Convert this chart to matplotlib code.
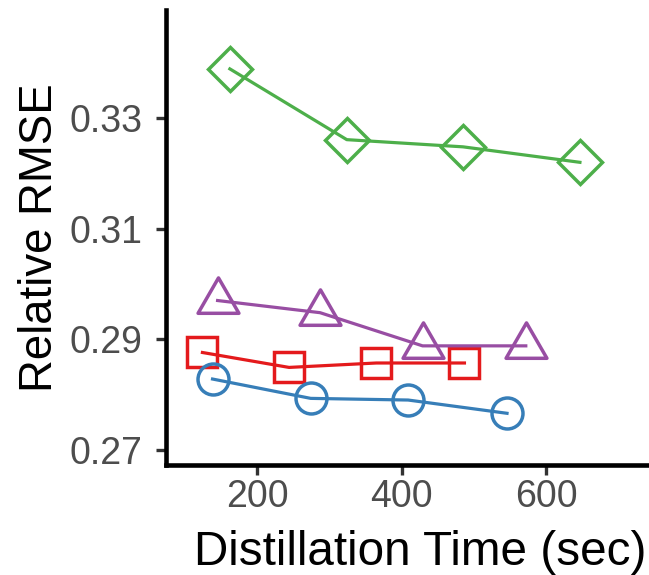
import matplotlib
matplotlib.use("Agg")
import matplotlib.pyplot as plt
from matplotlib.path import Path

# values
green_x = [162, 324, 485, 647]
green_y = [0.3389, 0.3261, 0.3248, 0.3220]
purple_x = [145, 287, 429, 572]
purple_y = [0.2970, 0.2948, 0.2888, 0.2888]
red_x = [124, 244, 365, 487]
red_y = [0.2876, 0.2849, 0.2857, 0.2857]
blue_x = [138, 274, 409, 546]
blue_y = [0.2828, 0.2793, 0.2790, 0.2766]

x_ticks = [200, 400, 600]
y_ticks = [0.27, 0.29, 0.31, 0.33]
y_tick_labels = ["0.27", "0.29", "0.31", "0.33"]

plt.rcParams['font.family'] = ['Liberation Sans', 'DejaVu Sans']

# triangle centred on its centroid, like R's shape 2
tri = Path([(0, 1), (-0.866, -0.5), (0.866, -0.5), (0, 1)],
           [Path.MOVETO, Path.LINETO, Path.LINETO, Path.CLOSEPOLY])

series = [
    (green_x, green_y, '#4DAF4A', 'D', 22.5),
    (purple_x, purple_y, '#984EA3', tri, 34),
    (red_x, red_y, '#E41A1C', 's', 22.3),
    (blue_x, blue_y, '#377EB8', 'o', 22.3),
]

fig = plt.figure(figsize=(6.49, 5.75), dpi=100)
ax = fig.add_axes([0.2562, 0.1918, 0.7438, 0.7903])

for xs, ys, col, mk, ms in series:
    ax.plot(xs, ys, color=col, lw=2.3, zorder=3)
    ax.plot(xs, ys, ls='none', marker=mk, ms=ms, mfc='none', mec=col,
            mew=2.5, zorder=2)

ax.set_xlim(73.9, 742.7)
ax.set_ylim(0.2673, 0.3495)
ax.set_xticks(x_ticks)
ax.set_yticks(y_ticks)
ax.set_yticklabels(y_tick_labels)

for side in ['top', 'right']:
    ax.spines[side].set_visible(False)
for side in ['left', 'bottom']:
    ax.spines[side].set_linewidth(3.3)
    ax.spines[side].set_color('black')

ax.tick_params(axis='both', direction='out', length=7.2, width=2.4,
               color='#333333', labelsize=27, labelcolor='#4D4D4D')
ax.tick_params(axis='x', pad=3)
ax.tick_params(axis='y', pad=10)

fig.text(420 / 649, 1 - 565 / 575, 'Distillation Time (sec)', fontsize=34.3,
         color='black', ha='center', va='baseline')
fig.text(52 / 649, 1 - 237.5 / 575, 'Relative RMSE', fontsize=32.8,
         color='black', ha='center', va='baseline', rotation=90,
         rotation_mode='anchor')

fig.savefig('out.png', dpi=100)
